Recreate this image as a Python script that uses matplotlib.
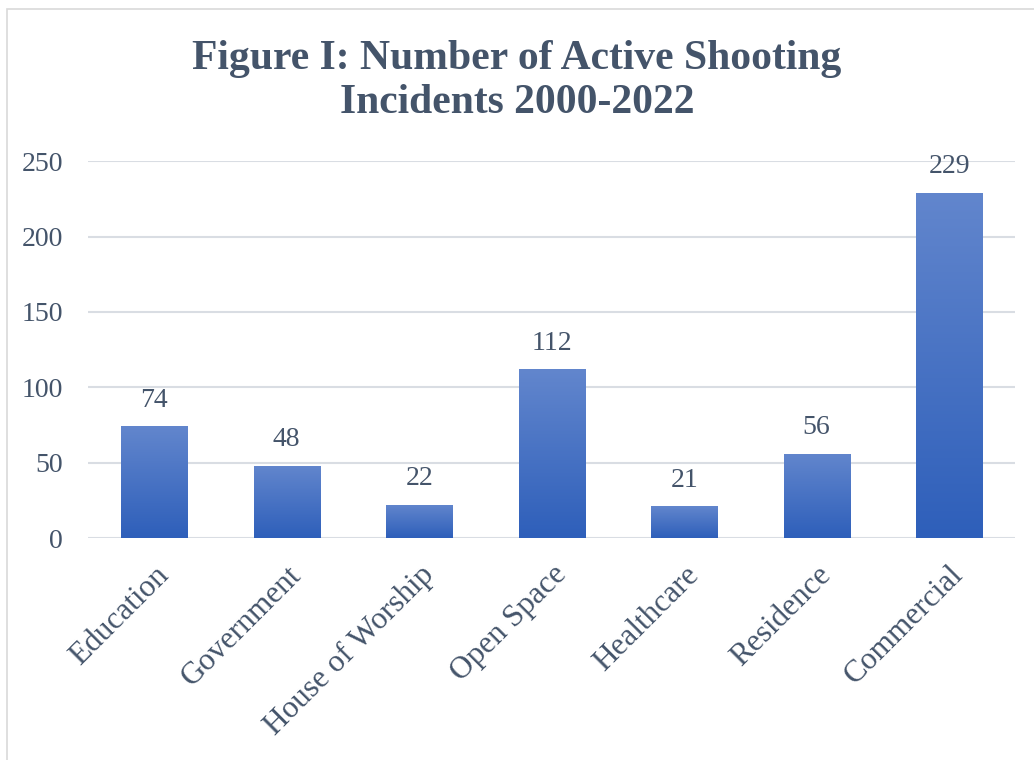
import numpy as np
import matplotlib
matplotlib.use('Agg')
import matplotlib.pyplot as plt
from matplotlib.colors import LinearSegmentedColormap
from matplotlib.patches import Rectangle

categories = ['Education', 'Government', 'House of Worship', 'Open Space',
              'Healthcare', 'Residence', 'Commercial']
incidents = [74, 48, 22, 112, 21, 56, 229]
yticks = [0, 50, 100, 150, 200, 250]

plt.rcParams['font.family'] = ['Liberation Serif', 'DejaVu Serif']
text_col = '#44546A'

fig = plt.figure(figsize=(10.34, 7.6), dpi=100)
ax = fig.add_axes([0.085, 0.292, 0.897, 0.496])

grad = LinearSegmentedColormap.from_list('g', ['#2E5FBA', '#6286CD'])
x = np.arange(len(categories))
bars = ax.bar(x, incidents, width=0.5, color='none', zorder=3)
g = np.linspace(0, 1, 256).reshape(-1, 1)
for b in bars:
    x0, y0 = b.get_x(), b.get_y()
    w, h = b.get_width(), b.get_height()
    im = ax.imshow(g, cmap=grad, origin='lower', aspect='auto',
                   extent=[x0, x0 + w, y0, y0 + h], zorder=3)
    im.set_clip_path(b)

for xi, v in zip(x, incidents):
    ax.text(xi, v + 9, str(v), ha='center', va='bottom', fontsize=20, color=text_col)

ax.set_xlim(-0.5, len(categories) - 0.5)
ax.set_ylim(0, 250)
ax.set_yticks(yticks)
ax.set_xticks(x)
ax.set_xticklabels(categories, rotation=45, ha='right', rotation_mode='anchor',
                   fontsize=22.5, color=text_col)
ax.tick_params(axis='y', labelsize=20, labelcolor=text_col, length=0, pad=18)
ax.tick_params(axis='x', length=0, pad=16)
ax.yaxis.grid(True, color='#D9DDE3', linewidth=1.5, zorder=0)
ax.set_axisbelow(True)
for s in ax.spines.values():
    s.set_visible(False)

fig.text(0.5, 0.893, 'Figure I: Number of Active Shooting\nIncidents 2000-2022',
         ha='center', va='center', fontsize=30, fontweight='bold', color=text_col,
         linespacing=1.2)

fig.patches.append(Rectangle((0.007, -0.01), 1.1, 0.998, transform=fig.transFigure,
                             fill=False, edgecolor='#D9D9D9', linewidth=1.2))

fig.savefig('out.png', dpi=100)
